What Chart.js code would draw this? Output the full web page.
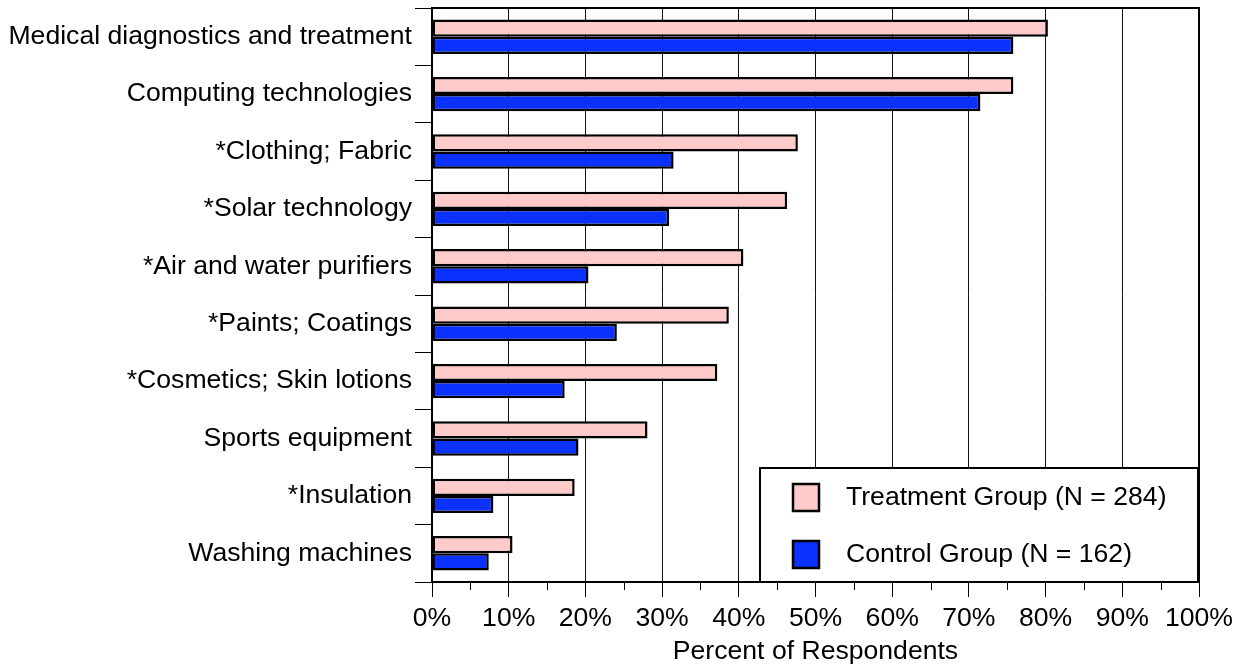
<!DOCTYPE html>
<html>
<head>
<meta charset="utf-8">
<script src="https://cdn.jsdelivr.net/npm/chart.js@4"></script>
<style>
  html, body { margin: 0; padding: 0; background: #fff; }
  #wrap { width: 1247px; height: 672px; }
</style>
</head>
<body>
<div id="wrap"><canvas id="usesChart" width="1247" height="672"></canvas></div>
<script>
const categories = [
  'Medical diagnostics and treatment',
  'Computing technologies',
  '*Clothing; Fabric',
  '*Solar technology',
  '*Air and water purifiers',
  '*Paints; Coatings',
  '*Cosmetics; Skin lotions',
  'Sports equipment',
  '*Insulation',
  'Washing machines'
];
const treatment = [80.3, 75.8, 47.7, 46.3, 40.6, 38.7, 37.2, 28.1, 18.6, 10.5];
const control = [75.8, 71.5, 31.5, 30.9, 20.4, 24.1, 17.3, 19.1, 8.0, 7.4];
const seriesNames = ['Treatment Group (N = 284)', 'Control Group (N = 162)'];
const seriesColors = ['#ffcaca', '#0b31ff'];

const FONT = 'Liberation Sans, Arial, sans-serif';
const FS = 26.6;

// frame, minor ticks and the boxed legend inside the plot
const framePlugin = {
  id: 'frame',
  afterDraw(chart) {
    const ctx = chart.ctx, a = chart.chartArea, x = chart.scales.x;
    ctx.save();
    // minor ticks every 5%
    ctx.strokeStyle = '#000';
    ctx.lineWidth = 1;
    for (let v = 5; v < 100; v += 10) {
      const px = Math.round(x.getPixelForValue(v)) + 0.5;
      ctx.beginPath();
      ctx.moveTo(px, a.bottom);
      ctx.lineTo(px, a.bottom + 8);
      ctx.stroke();
    }
    // legend box
    const lx = 760, ly = 468, lw = 438, lh = 114;
    ctx.fillStyle = '#fff';
    ctx.fillRect(lx, ly, lw, lh);
    ctx.lineWidth = 2;
    ctx.strokeRect(lx, ly, lw, lh);
    ctx.font = FS + 'px ' + FONT;
    ctx.textBaseline = 'middle';
    seriesNames.forEach((name, i) => {
      const cy = 497 + i * 57;
      ctx.fillStyle = seriesColors[i];
      ctx.fillRect(793, cy - 13, 26, 27);
      ctx.strokeStyle = '#000';
      ctx.lineWidth = 2.5;
      ctx.strokeRect(793, cy - 13, 26, 27);
      ctx.fillStyle = '#000';
      ctx.fillText(name, 846, cy + 1);
    });
    // plot frame
    ctx.lineWidth = 2;
    ctx.strokeRect(a.left, a.top, a.right - a.left, a.bottom - a.top);
    ctx.restore();
  }
};

const barStyle = {
  borderColor: '#000',
  borderWidth: 2.5,
  borderSkipped: false,
  categoryPercentage: 0.6,
  barPercentage: 1.0
};

new Chart(document.getElementById('usesChart'), {
  type: 'bar',
  data: {
    labels: categories,
    datasets: [
      Object.assign({ label: seriesNames[0], data: treatment, backgroundColor: seriesColors[0] }, barStyle),
      Object.assign({ label: seriesNames[1], data: control, backgroundColor: seriesColors[1] }, barStyle)
    ]
  },
  options: {
    indexAxis: 'y',
    responsive: false,
    animation: false,
    layout: { padding: { top: 8, right: 48, bottom: 0, left: 0 } },
    plugins: {
      legend: { display: false },
      tooltip: { enabled: false }
    },
    scales: {
      x: {
        min: 0,
        max: 100,
        ticks: {
          stepSize: 10,
          padding: 6,
          color: '#000',
          font: { family: FONT, size: FS },
          callback: v => v + '%'
        },
        grid: {
          color: '#111',
          lineWidth: 1,
          tickLength: 15,
          tickColor: '#000'
        },
        border: { color: '#000', width: 2 },
        title: {
          display: true,
          text: 'Percent of Respondents',
          color: '#000',
          font: { family: FONT, size: FS },
          padding: { top: 4, bottom: 4 }
        },
        afterFit(scale) {
          scale.height = 90;
          scale.paddingLeft = 0;
          scale.paddingRight = 0;
        }
      },
      y: {
        offset: true,
        ticks: {
          padding: 3,
          color: '#000',
          font: { family: FONT, size: FS }
        },
        grid: {
          offset: true,
          drawOnChartArea: false,
          tickLength: 17,
          tickColor: '#000'
        },
        border: { color: '#000', width: 2 },
        afterFit(scale) {
          scale.width = 432;
          scale.paddingTop = 0;
          scale.paddingBottom = 0;
        }
      }
    }
  },
  plugins: [framePlugin]
});
</script>
</body>
</html>
